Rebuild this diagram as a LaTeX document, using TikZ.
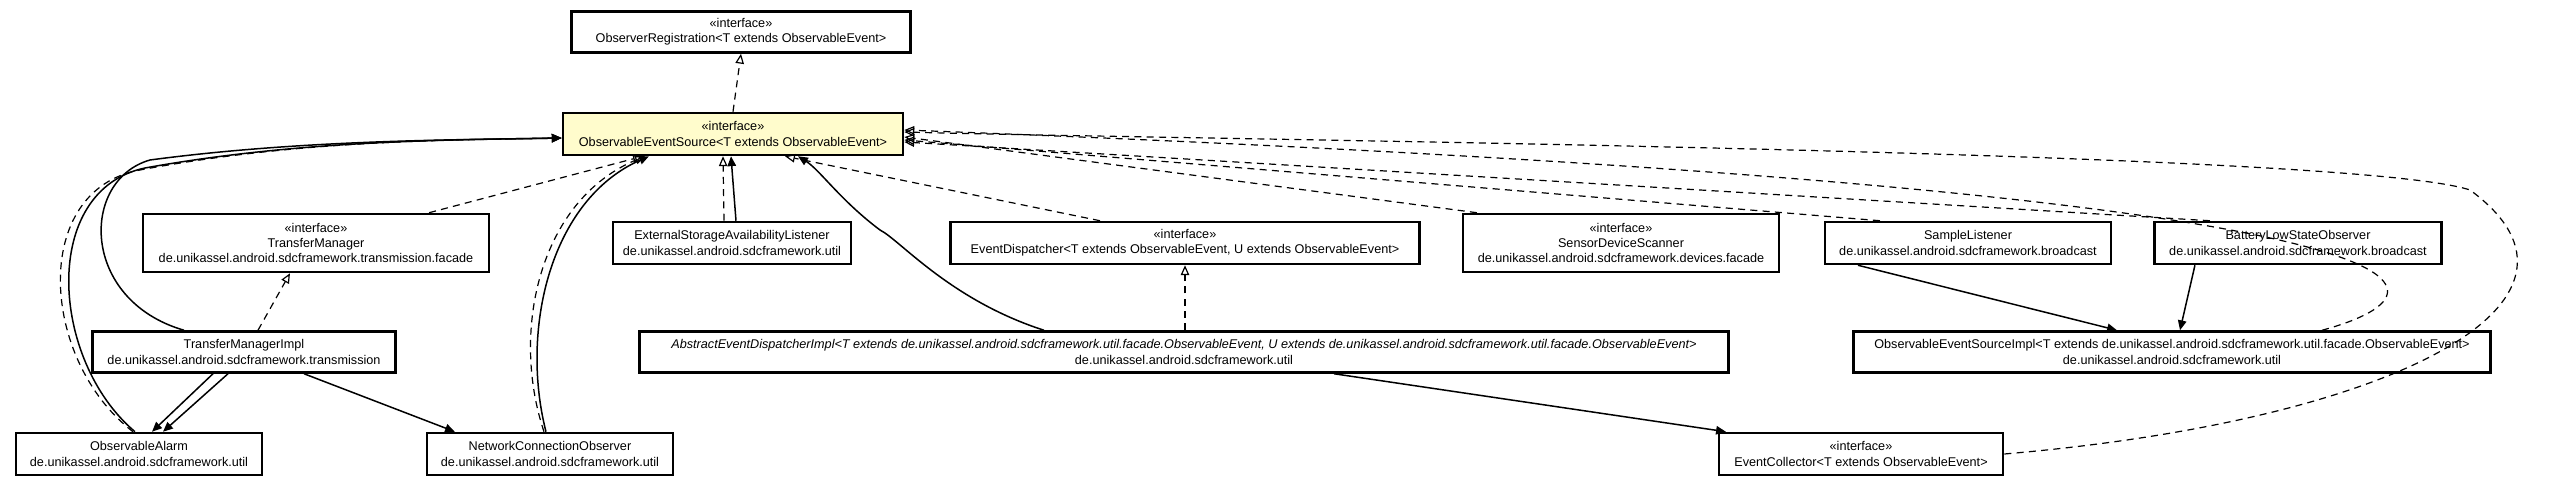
\documentclass[tikz,border=0pt]{standalone}
\usepackage{fontspec}
\setmainfont{Liberation Sans}
\usetikzlibrary{arrows.meta,positioning}

\tikzset{
	umlbox/.style={draw, line width=0.25mm, fill=white, inner sep=0pt, align=center,
		font=\fontsize{3.6pt}{4.3pt}\selectfont},
	hilite/.style={umlbox, fill=yellow!20!white},
	realize/.style={dashed, dash pattern=on 2pt off 1.5pt, line width=0.12mm, -{Triangle[open,length=2.8pt,width=2.4pt]}},
	assoc/.style={line width=0.15mm, -{Triangle[length=2.8pt,width=2.4pt]}},
}

\begin{document}
\begin{tikzpicture}[x=0.01cm, y=-0.01cm]

		\useasboundingbox (0,0) rectangle (2550,485);

		% boxes
		\node[umlbox, minimum width=3.39cm, minimum height=0.41cm] (reg) at (741,32) {«interface»\\ObserverRegistration<T extends ObservableEvent>};
		\node[hilite, minimum width=3.40cm, minimum height=0.42cm] (src) at (733,134) {«interface»\\ObservableEventSource<T extends ObservableEvent>};

		\node[umlbox, minimum width=3.46cm, minimum height=0.58cm] (tm) at (316,243) {«interface»\\TransferManager\\de.unikassel.android.sdcframework.transmission.facade};
		\node[umlbox, minimum width=2.38cm, minimum height=0.42cm] (esa) at (732,243) {ExternalStorageAvailabilityListener\\de.unikassel.android.sdcframework.util};
		\node[umlbox, minimum width=4.69cm, minimum height=0.42cm] (disp) at (1185,243) {«interface»\\EventDispatcher<T extends ObservableEvent, U extends ObservableEvent>};
		\node[umlbox, minimum width=3.16cm, minimum height=0.58cm] (scan) at (1621,243) {«interface»\\SensorDeviceScanner\\de.unikassel.android.sdcframework.devices.facade};
		\node[umlbox, minimum width=2.86cm, minimum height=0.42cm] (sample) at (1968,243) {SampleListener\\de.unikassel.android.sdcframework.broadcast};
		\node[umlbox, minimum width=2.87cm, minimum height=0.42cm] (battery) at (2298,243) {BatteryLowStateObserver\\de.unikassel.android.sdcframework.broadcast};

		\node[umlbox, minimum width=3.03cm, minimum height=0.41cm] (tmimpl) at (244,352) {TransferManagerImpl\\de.unikassel.android.sdcframework.transmission};
		\node[umlbox, minimum width=10.88cm, minimum height=0.41cm] (adisp) at (1184,352) {\textit{AbstractEventDispatcherImpl<T extends de.unikassel.android.sdcframework.util.facade.ObservableEvent, U extends de.unikassel.android.sdcframework.util.facade.ObservableEvent>}\\de.unikassel.android.sdcframework.util};
		\node[umlbox, minimum width=6.37cm, minimum height=0.41cm] (srcimpl) at (2172,352) {ObservableEventSourceImpl<T extends de.unikassel.android.sdcframework.util.facade.ObservableEvent>\\de.unikassel.android.sdcframework.util};

		\node[umlbox, minimum width=2.46cm, minimum height=0.42cm] (alarm) at (139,454) {ObservableAlarm\\de.unikassel.android.sdcframework.util};
		\node[umlbox, minimum width=2.46cm, minimum height=0.42cm] (netobs) at (550,454) {NetworkConnectionObserver\\de.unikassel.android.sdcframework.util};
		\node[umlbox, minimum width=2.84cm, minimum height=0.42cm] (coll) at (1861,454) {«interface»\\EventCollector<T extends ObservableEvent>};

		% realizations
		\draw[realize] (src.north) -- (reg.south);
		\draw[realize] ([xshift=1.13cm]tm.north) -- ([xshift=-0.90cm]src.south);
		\draw[realize] ([xshift=0.14cm]tmimpl.north) -- ([xshift=-0.26cm]tm.south);
		\draw[realize] ([xshift=-0.08cm]esa.north) -- ([xshift=-0.10cm]src.south);
		\draw[realize] ([xshift=-0.85cm]disp.north) -- ([xshift=0.52cm]src.south);
		\draw[realize] (adisp.north -| disp.south) -- (disp.south);
		\draw[realize] ([xshift=-1.44cm]scan.north) -- ([yshift=-0.03cm]src.east);
		\draw[realize] ([xshift=-0.88cm]sample.north) -- ([yshift=-0.06cm]src.east);
		\draw[realize] ([xshift=-0.88cm]battery.north) -- ([yshift=-0.08cm]src.east);
		\draw[realize] ([xshift=1.50cm]srcimpl.north) .. controls (2470,290) and (2500,190) .. ([yshift=0.04cm]src.east);
		\draw[realize] (coll.east) .. controls (2400,420) and (2620,300) .. (2470,190) .. controls (2350,150) and (1200,140) .. ([yshift=0.02cm]src.east);
		\draw[realize] ([xshift=-0.06cm]alarm.north) .. controls (40,360) and (30,190) .. (140,170) .. controls (300,140) and (450,140) .. ([yshift=-0.04cm]src.west);
		\draw[realize] ([xshift=-0.06cm]netobs.north) .. controls (510,330) and (540,200) .. ([xshift=-0.88cm]src.south);

		% associations
		\draw[assoc] ([xshift=-0.60cm]tmimpl.north) .. controls (80,300) and (80,180) .. (150,160) .. controls (300,140) and (450,140) .. ([yshift=-0.04cm]src.west);
		\draw[assoc] ([xshift=-0.04cm]alarm.north) .. controls (50,360) and (40,190) .. (145,168) .. controls (300,140) and (450,140) .. ([yshift=-0.04cm]src.west);
		\draw[assoc] ([xshift=-0.04cm]netobs.north) .. controls (520,330) and (550,200) .. ([xshift=-0.84cm]src.south);
		\draw[assoc] ([xshift=0.04cm]esa.north) -- ([xshift=-0.02cm]src.south);
		\draw[assoc] ([xshift=-1.40cm]adisp.north) .. controls (950,300) and (900,240) .. (880,230) .. controls (840,200) and (820,170) .. ([xshift=0.65cm]src.south);
		\draw[assoc] ([xshift=-0.31cm]tmimpl.south) -- ([xshift=0.13cm]alarm.north);
		\draw[assoc] ([xshift=-0.16cm]tmimpl.south) -- ([xshift=0.24cm]alarm.north);
		\draw[assoc] ([xshift=0.60cm]tmimpl.south) -- ([xshift=-0.95cm]netobs.north);
		\draw[assoc] ([xshift=1.50cm]adisp.south) -- ([xshift=-1.35cm]coll.north);
		\draw[assoc] ([xshift=-1.10cm]sample.south) -- ([xshift=-0.55cm]srcimpl.north);
		\draw[assoc] ([xshift=-1.03cm]battery.south) -- ([xshift=0.08cm]srcimpl.north);

\end{tikzpicture}
\end{document}
